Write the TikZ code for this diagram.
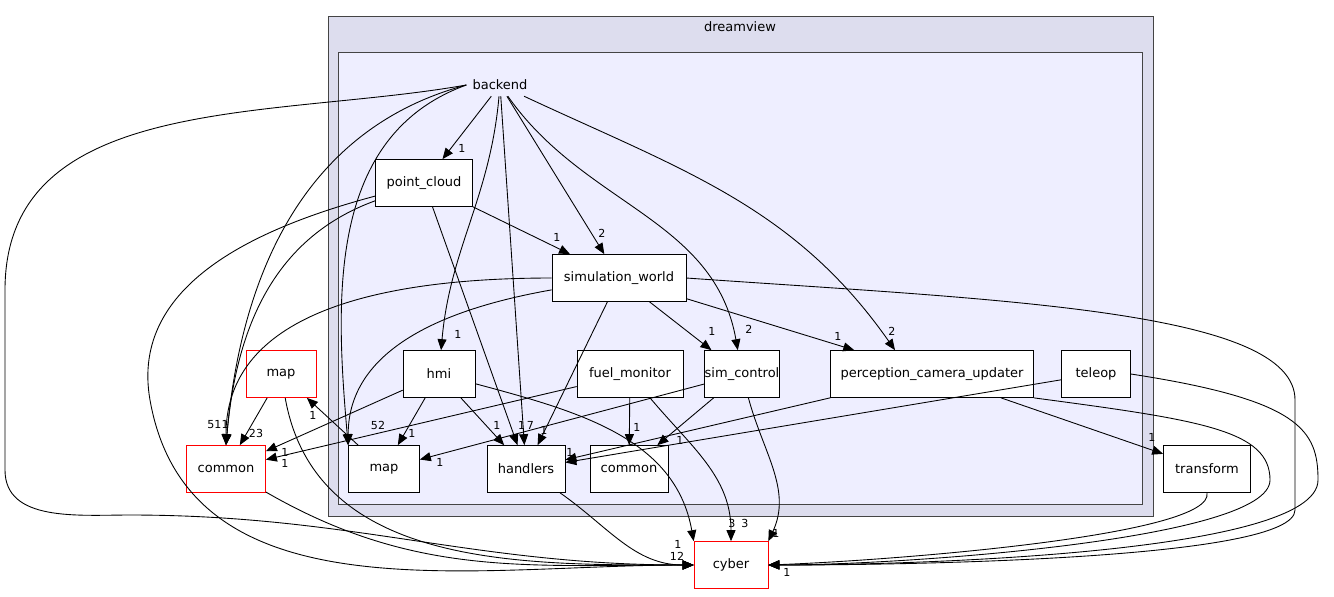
\documentclass[tikz,border=0pt]{standalone}
\usepackage{fontspec}
\setmainfont{DejaVu Sans}
\usetikzlibrary{arrows.meta}
\tikzset{
  box/.style={draw, fill=white, minimum height=0.94cm, inner sep=0pt, font=\fontsize{7.4}{9}\selectfont},
  redbox/.style={box, draw=red},
  e/.style={-{Triangle[length=2.2mm,width=1.8mm]}, line width=0.5pt},
  lbl/.style={font=\fontsize{6.3}{7}\selectfont, inner sep=0pt}
}
\begin{document}
\begin{tikzpicture}[x=0.02cm,y=-0.02cm]
\useasboundingbox (0,0) rectangle (1334,596);
% clusters
\draw[fill={rgb,255:red,221;green,221;blue,238}, draw={rgb,255:red,68;green,68;blue,68}] (328,16) rectangle (1153,516);
\node[lbl, font=\fontsize{7.4}{9}\selectfont] (dreamview) at (740,27) {dreamview};
\draw[fill={rgb,255:red,238;green,238;blue,255}, draw={rgb,255:red,68;green,68;blue,68}] (338,52) rectangle (1142,504);
\node[font=\fontsize{7.4}{9}\selectfont] (backend) at (500,85) {backend};

% nodes
\node[box, minimum width=1.94cm] (pc) at (424,183) {point\_cloud};
\node[box, minimum width=2.68cm] (sw) at (619,278) {simulation\_world};
\node[box, minimum width=1.44cm] (hmi) at (439,374) {hmi};
\node[box, minimum width=2.12cm] (fuel) at (630,374) {fuel\_monitor};
\node[box, minimum width=1.42cm] (simctl) at (742,374) {sim\_control};
\node[box, minimum width=4.06cm] (pcu) at (932,374) {perception\_camera\_updater};
\node[box, minimum width=1.38cm] (teleop) at (1096,374) {teleop};
\node[box, minimum width=1.42cm] (mapin) at (384,469) {map};
\node[box, minimum width=1.56cm] (handlers) at (526,469) {handlers};
\node[box, minimum width=1.56cm] (commonin) at (629,469) {common};
\node[box, minimum width=1.74cm] (transform) at (1207,469) {transform};
\node[redbox, minimum width=1.40cm] (mapout) at (281,374) {map};
\node[redbox, minimum width=1.58cm] (commonout) at (226,469) {common};
\node[redbox, minimum width=1.48cm] (cyber) at (731,565) {cyber};

% backend edges
\draw[e] (backend) -- (pc);
\draw[e] (backend) -- (sw);
\draw[e] (backend) to[out=-95,in=85] (hmi);
\draw[e] (backend) -- (handlers);
\draw[e] (backend) to[out=-55,in=100] (simctl);
\draw[e] (backend) to[out=-25,in=125] ([xshift=-0.74cm]pcu.north);
\draw[e] (backend.west) to[out=200,in=95] (mapin.north west);
\draw[e] (backend.west) to[out=195,in=85] (commonout.north);
\draw[e] (backend.west) to[out=190,in=90] (5,290) -- (5,470) to[out=-90,in=180] (130,515) to[out=0,in=180] (cyber.west);

% point_cloud edges
\draw[e] (pc) -- (sw);
\draw[e] (pc) -- (handlers);
\draw[e] (pc) to[out=200,in=85] (commonout.north);
\draw[e] (pc) to[out=195,in=100] (150,400) to[out=-80,in=180] (cyber.west);

% simulation_world edges
\draw[e] (sw) -- (simctl);
\draw[e] (sw) -- (pcu);
\draw[e] (sw) -- (handlers);
\draw[e] (sw) to[out=190,in=90] (mapin.north west);
\draw[e] (sw.west) to[out=180,in=90] (commonout.north);
\draw[e] (sw.east) .. controls (1000,300) and (1295,310) .. (1295,400) -- (1295,510) .. controls (1295,560) and (900,565) .. (cyber.east);

% hmi edges
\draw[e] (hmi) -- (mapin);
\draw[e] (hmi) -- (handlers);
\draw[e] (hmi) -- (commonout);
\draw[e] (hmi) to[out=-15,in=100] (cyber.north west);

% fuel_monitor edges
\draw[e] (fuel) -- (commonin);
\draw[e] (fuel) -- (commonout);
\draw[e] (fuel) to[out=-50,in=90] (cyber);

% sim_control edges
\draw[e] (simctl) -- (mapin);
\draw[e] (simctl) -- (commonin);
\draw[e] (simctl) to[out=-75,in=65] (cyber.north east);

% perception_camera_updater edges
\draw[e] (pcu) -- (handlers);
\draw[e] (pcu) -- (transform);
\draw[e] (pcu.south east) .. controls (1200,420) and (1270,430) .. (1270,480) .. controls (1270,540) and (900,565) .. (cyber.east);

% teleop edges
\draw[e] (teleop) -- (handlers);
\draw[e] (teleop.east) .. controls (1300,400) and (1318,430) .. (1318,480) .. controls (1318,555) and (900,565) .. (cyber.east);

% remaining edges
\draw[e] (mapout) -- (commonout);
\draw[e] (mapout) to[out=-80,in=180] (cyber.west);
\draw[e] (mapin) -- (mapout);
\draw[e] (commonout) to[out=-30,in=180] (cyber.west);
\draw[e] (handlers) to[out=-35,in=180] (cyber.west);
\draw[e] (transform.south) .. controls (1215,535) and (900,560) .. (cyber.east);

% labels
\node[lbl] (l1) at (462,148) {1};
\node[lbl] (l2) at (602,233) {2};
\node[lbl] (l3) at (458,334) {1};
\node[lbl] (l4) at (526,425) {1\,7};
\node[lbl] (l5) at (749,329) {2};
\node[lbl] (l6) at (892,331) {2};
\node[lbl] (l7) at (378,425) {52};
\node[lbl] (l8) at (218,425) {511};
\node[lbl] (l9) at (557,237) {1};
\node[lbl] (l10) at (712,331) {1};
\node[lbl] (l11) at (838,336) {1};
\node[lbl] (l12) at (544,430) {1};
\node[lbl] (l13) at (412,433) {1};
\node[lbl] (l14) at (497,425) {1};
\node[lbl] (l15) at (285,452) {1};
\node[lbl] (l16) at (285,463) {1};
\node[lbl] (l17) at (637,427) {1};
\node[lbl] (l18) at (745,523) {3};
\node[lbl] (l19) at (732,523) {3};
\node[lbl] (l20) at (440,462) {1};
\node[lbl] (l21) at (680,440) {1};
\node[lbl] (l22) at (776,533) {1};
\node[lbl] (l23) at (570,452) {1};
\node[lbl] (l24) at (1152,437) {1};
\node[lbl] (l25) at (256,433) {23};
\node[lbl] (l26) at (313,415) {1};
\node[lbl] (l27) at (678,544) {1};
\node[lbl] (l28) at (677,556) {12};
\node[lbl] (l29) at (787,572) {1};
\end{tikzpicture}
\end{document}
